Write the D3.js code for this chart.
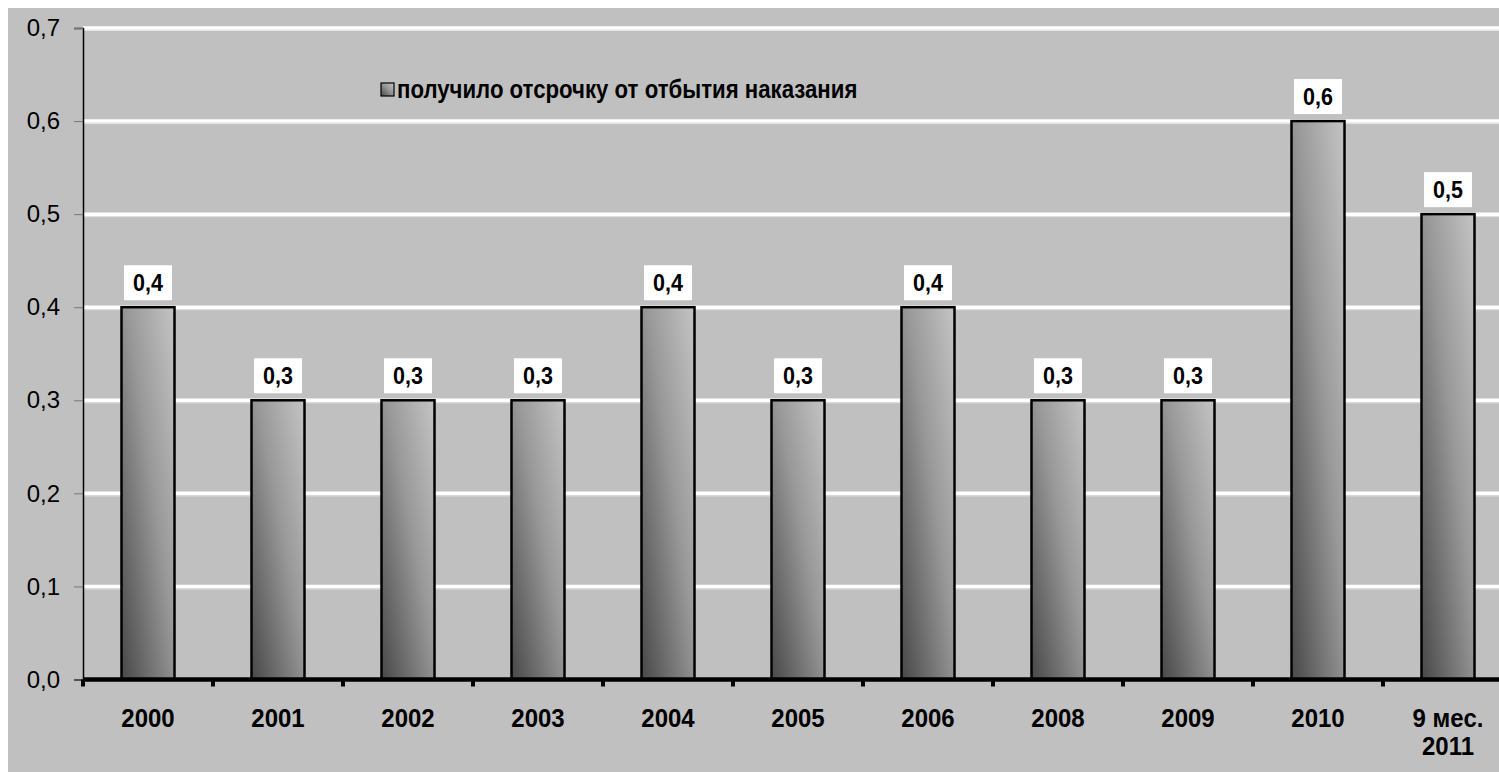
<!DOCTYPE html>
<html><head><meta charset="utf-8">
<script src="https://cdn.jsdelivr.net/npm/d3@7"></script>
<style>body{margin:0;background:#fff;overflow:hidden}svg{display:block}</style>
</head><body>
<svg id="c" width="1499" height="772"></svg>
<script>
const categories = ["2000","2001","2002","2003","2004","2005","2006","2008","2009","2010","9 мес.|2011"];
const values = [0.4,0.3,0.3,0.3,0.4,0.3,0.4,0.3,0.3,0.6,0.5];
const yTicks = [0,0.1,0.2,0.3,0.4,0.5,0.6,0.7];
const legendLabel = "получило отсрочку от отбытия наказания";

const svg = d3.select("#c");
const font = "'Liberation Sans', Arial, sans-serif";
const defs = svg.append("defs");
const g = defs.append("linearGradient").attr("id","bg").attr("x1",0).attr("y1",1).attr("x2",1).attr("y2",0);
g.append("stop").attr("offset",0).attr("stop-color","#484848");
g.append("stop").attr("offset",0.55).attr("stop-color","#989898");
g.append("stop").attr("offset",1).attr("stop-color","#c4c4c4");

svg.append("rect").attr("x",8).attr("y",8).attr("width",1499).attr("height",772).attr("fill","#c0c0c0");

const x = d3.scaleBand().domain(categories).range([83,83+11*130]).paddingInner(0).paddingOuter(0);
const y = d3.scaleLinear().domain([0,0.7]).range([679.5,28]);

// gridlines
svg.append("g").selectAll("line").data(yTicks.filter(d=>d>0)).join("line")
  .attr("x1",83).attr("x2",1513).attr("y1",d=>y(d)).attr("y2",d=>y(d))
  .attr("stroke","#fff").attr("stroke-width",3.5);
svg.append("g").selectAll("line").data(yTicks.filter(d=>d>0)).join("line")
  .attr("x1",83).attr("x2",1513).attr("y1",d=>y(d)+2.5).attr("y2",d=>y(d)+2.5)
  .attr("stroke","#e4e4e4").attr("stroke-width",1);

// y axis
const yAxis = d3.axisLeft(y).tickValues(yTicks).tickSize(9).tickPadding(14).tickFormat(d=>d3.format(".1f")(d).replace(".",","));
const ya = svg.append("g").attr("transform","translate(83,0)").call(yAxis);
ya.select(".domain").attr("stroke","#000").attr("stroke-width",1.5);
ya.selectAll(".tick line").attr("stroke","#777").attr("stroke-width",1);
ya.selectAll(".tick text").attr("font-family",font).attr("font-size",24).attr("fill","#000");

// bars
const bw = 53;
svg.append("g").selectAll("rect").data(values).join("rect")
  .attr("x",(d,i)=>x(categories[i])+x.bandwidth()/2-bw/2)
  .attr("width",bw)
  .attr("y",d=>y(d)).attr("height",d=>y(0)-y(d))
  .attr("fill","url(#bg)").attr("stroke","#000").attr("stroke-width",2.5);

// x axis
const xa = svg.append("g").attr("transform","translate(0,679.5)");
xa.append("line").attr("x1",83).attr("x2",1513).attr("stroke","#000").attr("stroke-width",4.5);
xa.selectAll("line.t").data(categories).join("line").attr("class","t")
  .attr("x1",d=>x(d)).attr("x2",d=>x(d)).attr("y1",0).attr("y2",7).attr("stroke","#000").attr("stroke-width",4);
const xl = xa.selectAll("g.l").data(categories).join("g").attr("class","l")
  .attr("transform",d=>`translate(${x(d)+x.bandwidth()/2},47.5) scale(1,1.08)`);
xl.each(function(d){
  const parts = d.split("|");
  const t = d3.select(this).append("text").attr("text-anchor","middle").attr("font-family",font)
    .attr("font-weight","bold").attr("font-size",24).attr("fill","#000");
  parts.forEach((p,k)=>t.append("tspan").attr("x",0).attr("dy",k===0?0:26).text(p));
});

// data labels
const lb = svg.append("g").selectAll("g").data(values).join("g")
  .attr("transform",(d,i)=>`translate(${x(categories[i])+x.bandwidth()/2},${y(d)-7})`);
lb.append("rect").attr("x",-24).attr("y",-35).attr("width",48).attr("height",35).attr("fill","#fff");
lb.append("text").attr("transform","translate(0,-9.5) scale(1,1.1)").attr("text-anchor","middle").attr("font-family",font).attr("font-weight","bold").attr("font-size",21.5).attr("fill","#000")
  .text(d=>d3.format(".1f")(d).replace(".",","));

// legend
svg.append("rect").attr("x",381).attr("y",83).attr("width",13).attr("height",13).attr("fill","url(#bg)").attr("stroke","#000").attr("stroke-width",1.2);
svg.append("text").attr("transform","translate(397,98) scale(1,1.14)").attr("font-family",font).attr("font-weight","bold").attr("font-size",22.2).attr("fill","#000").text(legendLabel);
</script>
</body></html>
